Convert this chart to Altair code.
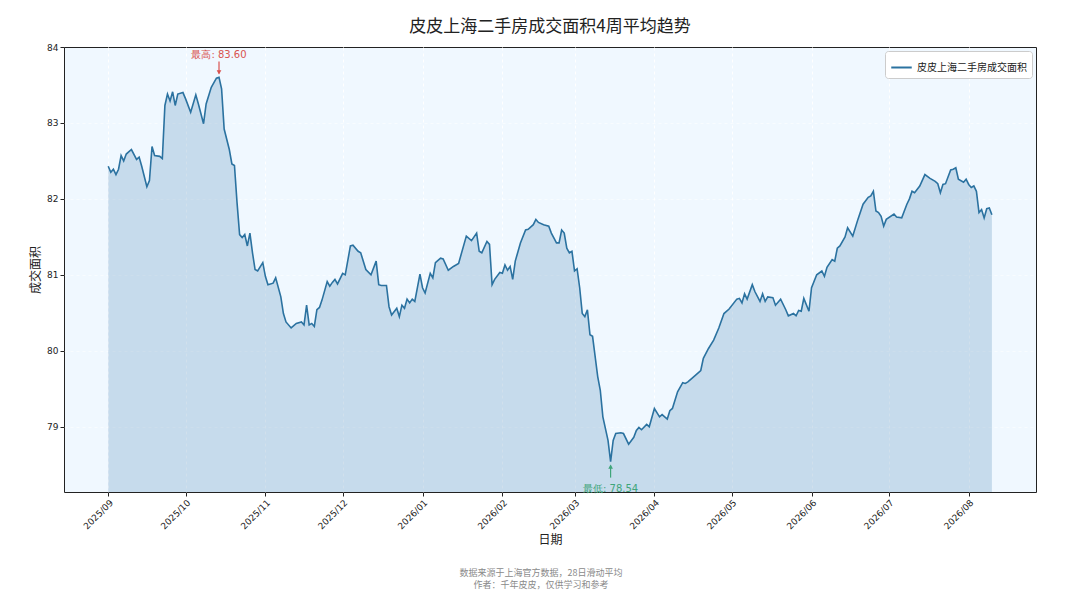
import altair as alt
import pandas as pd

# ---- data ----
series_name = "皮皮上海二手房成交面积"
start_date = "2025-09-01"
day_offsets = [
    0, 1, 2, 3, 4, 5, 6, 7, 9, 11, 12, 13, 15, 16, 17, 18, 20, 21, 22, 23,
    24, 25, 26, 27, 29, 30, 32, 34, 35, 37, 38, 40, 42, 43, 44, 45, 47, 48, 49, 50,
    51, 52, 53, 54, 55, 56, 57, 58, 60, 61, 62, 64, 65, 67, 68, 69, 71, 73, 75, 76,
    77, 78, 79, 80, 81, 82, 83, 85, 86, 87, 88, 89, 91, 92, 94, 95, 97, 98, 100, 102,
    104, 105, 106, 108, 109, 110, 112, 113, 114, 115, 116, 117, 118, 119, 121, 122, 123, 125, 126, 127,
    129, 130, 132, 134, 136, 139, 141, 143, 144, 145, 147, 148, 149, 150, 152, 153, 154, 155, 156, 157,
    158, 160, 162, 163, 165, 166, 167, 169, 171, 172, 174, 175, 176, 177, 178, 179, 180, 181, 182, 183,
    184, 185, 186, 187, 188, 190, 191, 192, 194, 195, 196, 197, 199, 200, 202, 204, 205, 206, 207, 209,
    210, 212, 214, 215, 217, 218, 219, 221, 223, 224, 225, 228, 230, 231, 233, 235, 237, 239, 241, 244,
    245, 246, 247, 248, 250, 251, 253, 254, 255, 256, 258, 259, 261, 263, 264, 266, 267, 268, 269, 270,
    272, 273, 275, 277, 278, 279, 281, 282, 283, 284, 286, 287, 289, 291, 293, 295, 296, 297, 298, 299,
    300, 301, 302, 305, 306, 308, 310, 311, 312, 313, 315, 317, 319, 321, 322, 323, 324, 325, 327, 328,
    329, 330, 332, 333, 334, 335, 336, 337, 338, 339, 340, 341, 342, 343,
]
values = [
    82.43, 82.35, 82.39, 82.32, 82.39, 82.57, 82.50, 82.59, 82.65, 82.52, 82.55, 82.43, 82.16, 82.24, 82.69, 82.57, 82.56, 82.53, 83.23, 83.38,
    83.29, 83.41, 83.23, 83.38, 83.40, 83.32, 83.14, 83.37, 83.25, 82.99, 83.25, 83.47, 83.59, 83.60, 83.45, 82.92, 82.65, 82.46, 82.44, 81.95,
    81.53, 81.49, 81.53, 81.38, 81.55, 81.29, 81.07, 81.05, 81.16, 80.98, 80.87, 80.89, 80.96, 80.71, 80.49, 80.38, 80.30, 80.36, 80.38, 80.34,
    80.60, 80.34, 80.36, 80.32, 80.54, 80.57, 80.67, 80.91, 80.85, 80.90, 80.94, 80.88, 81.02, 81.00, 81.38, 81.39, 81.31, 81.29, 81.07, 81.00,
    81.18, 80.87, 80.86, 80.86, 80.58, 80.47, 80.56, 80.45, 80.60, 80.56, 80.68, 80.63, 80.68, 80.65, 81.01, 80.83, 80.76, 81.02, 80.96, 81.16,
    81.22, 81.21, 81.06, 81.11, 81.15, 81.51, 81.45, 81.55, 81.31, 81.29, 81.44, 81.40, 80.87, 80.94, 81.03, 81.02, 81.13, 81.06, 81.11, 80.94,
    81.18, 81.42, 81.59, 81.60, 81.66, 81.73, 81.69, 81.66, 81.64, 81.55, 81.42, 81.42, 81.59, 81.55, 81.35, 81.29, 81.31, 81.05, 81.08, 80.83,
    80.49, 80.45, 80.54, 80.21, 80.19, 79.66, 79.48, 79.13, 78.82, 78.54, 78.82, 78.91, 78.92, 78.91, 78.77, 78.86, 78.95, 78.99, 78.96, 79.03,
    79.00, 79.24, 79.13, 79.16, 79.10, 79.21, 79.24, 79.46, 79.58, 79.57, 79.59, 79.68, 79.74, 79.90, 80.03, 80.14, 80.30, 80.49, 80.55, 80.68,
    80.69, 80.63, 80.75, 80.68, 80.87, 80.78, 80.65, 80.75, 80.65, 80.71, 80.70, 80.60, 80.68, 80.54, 80.46, 80.49, 80.46, 80.53, 80.52, 80.69,
    80.52, 80.83, 81.00, 81.05, 80.98, 81.10, 81.20, 81.18, 81.35, 81.38, 81.50, 81.62, 81.51, 81.73, 81.93, 82.02, 82.04, 82.10, 81.84, 81.82,
    81.77, 81.64, 81.73, 81.80, 81.76, 81.75, 81.93, 82.00, 82.10, 82.08, 82.17, 82.32, 82.27, 82.23, 82.20, 82.08, 82.19, 82.20, 82.38, 82.39,
    82.41, 82.26, 82.22, 82.26, 82.19, 82.15, 82.17, 82.10, 81.82, 81.86, 81.75, 81.87, 81.88, 81.79,
]
month_ticks = [(2025, m) for m in range(9, 13)] + [(2026, m) for m in range(1, 9)]
y_ticks = [79, 80, 81, 82, 83, 84]

title_text = "皮皮上海二手房成交面积4周平均趋势"
x_title = "日期"
y_title = "成交面积"
footer_lines = ["数据来源于上海官方数据，28日滑动平均", "作者：千年皮皮，仅供学习和参考"]

# ---- build table ----
base_date = pd.Timestamp(start_date)
dates = [(base_date + pd.Timedelta(days=d)).strftime("%Y-%m-%d") for d in day_offsets]
df = pd.DataFrame({"date": dates, "value": values, "series": [series_name] * len(values)})

vmax = max(values)
vmin = min(values)
imax = values.index(vmax)
imin = values.index(vmin)
df_max = pd.DataFrame({"date": [dates[imax]], "value": [vmax], "label": [f"最高: {vmax:.2f}"]})
df_min = pd.DataFrame({"date": [dates[imin]], "value": [vmin], "label": [f"最低: {vmin:.2f}"]})

y_lo = vmin - 0.4
y_hi = vmax + 0.4

W, H = 972, 445
LINE_COLOR = "#2b72a0"
CJK = "Noto Sans CJK SC"
TICKF = "DejaVu Sans"

x_scale = alt.Scale(
    type="utc",
    domain=[
        alt.DateTime(year=2025, month=8, date=14, hours=20, utc=True),
        alt.DateTime(year=2026, month=8, date=27, hours=3, utc=True),
    ],
)
x_axis = alt.Axis(
    values=[alt.DateTime(year=y, month=m, date=1, utc=True) for y, m in month_ticks],
    labelExpr="utcFormat(datum.value, '%Y/%m')",
    labelAngle=-45,
    labelAlign="right",
    labelBaseline="top",
    labelFont=TICKF,
    labelFontSize=9,
    labelPadding=2,
    titleFont=CJK,
    titleFontSize=12,
    titleFontWeight="normal",
    titlePadding=4,
    grid=True,
)
y_scale = alt.Scale(domain=[y_lo, y_hi], zero=False, nice=False)
y_axis = alt.Axis(
    values=y_ticks,
    format="d",
    labelFont=TICKF,
    labelFontSize=9,
    titleFont=CJK,
    titleFontSize=12,
    titleFontWeight="normal",
    titlePadding=4,
    grid=True,
    gridOpacity={"condition": {"test": "datum.value >= 84", "value": 0}, "value": 0.55},
)


def X():
    return alt.X("date:T", title=x_title, scale=x_scale, axis=x_axis)


def Y():
    return alt.Y("value:Q", title=y_title, scale=y_scale, axis=y_axis)


base = alt.Chart(df)

area = base.mark_area(color="#4682b4", opacity=0.25).encode(
    x=X(), y=Y(), y2=alt.datum(y_lo)
)

line = base.mark_line(strokeWidth=1.6).encode(
    x=X(),
    y=Y(),
    color=alt.Color(
        "series:N",
        scale=alt.Scale(domain=[series_name], range=[LINE_COLOR]),
        legend=alt.Legend(
            title=None,
            orient="top-right",
            offset=4,
            symbolType="stroke",
            symbolSize=420,
            symbolStrokeWidth=2,
            labelFont=CJK,
            labelFontSize=10,
            labelColor="#222",
            fillColor="white",
            strokeColor="#cccccc",
            padding=5,
            cornerRadius=3,
        ),
    ),
)

RED = "#d9534f"
GREEN = "#3fa57a"

max_rule = alt.Chart(df_max).mark_rule(color=RED, strokeWidth=1.2, yOffset=-4, y2Offset=-16).encode(
    x=X(), y=Y(), y2="value:Q"
)
max_head = alt.Chart(df_max).mark_point(shape="triangle-down", filled=True, size=22, color=RED, opacity=1, yOffset=-5).encode(
    x=X(), y=Y()
)
max_text = alt.Chart(df_max).mark_text(color=RED, font=TICKF, fontSize=10, dy=-22, baseline="middle").encode(
    x=X(), y=Y(), text="label:N"
)

min_rule = alt.Chart(df_min).mark_rule(color=GREEN, strokeWidth=1.2, yOffset=4, y2Offset=16).encode(
    x=X(), y=Y(), y2="value:Q"
)
min_head = alt.Chart(df_min).mark_point(shape="triangle-up", filled=True, size=22, color=GREEN, opacity=1, yOffset=5).encode(
    x=X(), y=Y()
)
min_text = alt.Chart(df_min).mark_text(color=GREEN, font=TICKF, fontSize=10, dy=27, baseline="middle").encode(
    x=X(), y=Y(), text="label:N"
)

footer1 = alt.Chart(pd.DataFrame({"line": [footer_lines[0]]})).mark_text(
    font=CJK, fontSize=9, color="#8a8a8a", baseline="middle"
).encode(x=alt.value(477), y=alt.value(526), text="line:N")
footer2 = alt.Chart(pd.DataFrame({"line": [footer_lines[1]]})).mark_text(
    font=CJK, fontSize=9, color="#8a8a8a", baseline="middle"
).encode(x=alt.value(477), y=alt.value(538), text="line:N")

chart = (
    alt.layer(area, line, max_rule, max_head, max_text, min_rule, min_head, min_text, footer1, footer2)
    .properties(
        width=W,
        height=H,
        autosize=alt.AutoSizeParams(type="none"),
        padding={"left": 56, "top": 39, "right": 34, "bottom": 100},
        title=alt.TitleParams(
            title_text, font=CJK, fontSize=17, fontWeight="normal", color="#222",
            anchor="middle", offset=7,
        ),
        background="white",
    )
    .configure_view(fill="#f0f8ff", stroke="#222222", strokeWidth=1)
    .configure_axis(
        domain=False,
        tickColor="#222",
        tickSize=4,
        labelColor="#222",
        titleColor="#222",
        gridColor="#ffffff",
        gridDash=[3, 3],
    )
)

chart.save("out.html", embed_options={"renderer": "svg", "actions": False})
